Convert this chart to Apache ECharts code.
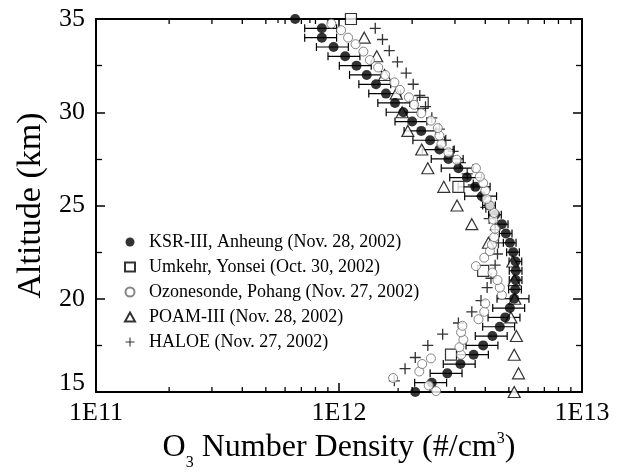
<!DOCTYPE html>
<html>
<head>
<meta charset="utf-8">
<script src="https://cdn.jsdelivr.net/npm/echarts@6/dist/echarts.min.js"></script>
<style>
  html, body { margin: 0; padding: 0; background: #fff; }
  #chart { width: 629px; height: 475px; }
</style>
</head>
<body>
<div id="chart"></div>
<script>
// KSR-III rocket, Anheung (altitude km, number density, error %)
const ksrAlt = [15, 15.5, 16, 16.5, 17, 17.5, 18, 18.5, 19, 19.5, 20, 20.5, 21, 21.5, 22, 22.5, 23, 23.5, 24, 24.5,
  25, 25.5, 26, 26.5, 27, 27.5, 28, 28.5, 29, 29.5, 30, 30.5, 31, 31.5, 32, 32.5, 33, 33.5, 34, 34.5, 35];
const ksrVal = [2.06e12, 2.41e12, 2.79e12, 3.16e12, 3.58e12, 3.92e12, 4.28e12, 4.59e12, 4.83e12, 5.05e12,
  5.26e12, 5.31e12, 5.34e12, 5.34e12, 5.33e12, 5.21e12, 5.05e12, 4.86e12, 4.68e12, 4.39e12,
  4.15e12, 3.87e12, 3.64e12, 3.36e12, 3.10e12, 2.82e12, 2.59e12, 2.37e12, 2.18e12, 2.00e12,
  1.84e12, 1.70e12, 1.56e12, 1.42e12, 1.30e12, 1.18e12, 1.06e12, 9.5e11, 8.5e11, 8.5e11, 6.6e11];
const ksrErr = [15, 15, 15, 15, 15, 15, 15, 15, 15, 15, 15, 6, 6, 6, 6, 6, 6, 6, 6, 6,
  6, 15, 15, 15, 15, 15, 15, 15, 15, 15, 15, 15, 15, 15, 15, 15, 15, 15, 15, 15, 15];

// Umkehr, Yonsei
const umkAlt = [17, 21.5, 26, 30.5, 35];
const umkVal = [2.89e12, 3.92e12, 3.10e12, 2.21e12, 1.12e12];

// Ozonesonde, Pohang
const sondeAlt = [15.05, 15.35, 15.75, 16.1, 16.5, 16.8, 17.0, 17.4, 17.8, 18.2, 18.55, 18.9, 19.3, 19.75, 20.2,
  20.6, 21.0, 21.4, 21.75, 22.2, 22.55, 22.9, 23.3, 23.75, 24.25, 24.6, 25.0, 25.35, 25.8, 26.2,
  26.55, 27.0, 27.45, 27.85, 28.3, 28.75, 29.15, 29.55, 29.95, 30.4, 30.8, 31.2, 31.6, 32.0, 32.4,
  32.8, 33.25, 33.65, 34.0, 34.4, 34.75];
const sondeVal = [2.51e12, 2.34e12, 1.67e12, 2.14e12, 2.20e12, 2.39e12, 3.18e12, 3.13e12, 3.25e12, 3.18e12,
  3.22e12, 3.75e12, 3.96e12, 4.00e12, 4.68e12, 4.59e12, 4.49e12, 4.28e12, 3.66e12, 3.96e12,
  4.18e12, 4.26e12, 4.35e12, 4.39e12, 4.31e12, 4.35e12, 4.18e12, 4.05e12, 4.00e12, 3.92e12,
  3.80e12, 3.66e12, 3.05e12, 2.82e12, 2.64e12, 2.59e12, 2.55e12, 2.39e12, 2.18e12, 2.04e12,
  1.94e12, 1.78e12, 1.69e12, 1.55e12, 1.45e12, 1.34e12, 1.26e12, 1.17e12, 1.09e12, 1.02e12, 9.3e11];

// POAM-III
const poamAlt = [15, 16, 17, 18, 19, 20, 21, 22, 23, 24, 25, 26, 27, 28, 29, 30, 31, 32, 33, 34];
const poamVal = [5.26e12, 5.48e12, 5.26e12, 5.37e12, 5.10e12, 5.29e12, 5.26e12, 5.19e12, 4.12e12, 3.52e12,
  3.06e12, 2.70e12, 2.32e12, 2.19e12, 1.92e12, 1.82e12, 1.72e12, 1.54e12, 1.43e12, 1.27e12];

// HALOE
const haloeAlt = [15.6, 16.25, 16.85, 17.5, 18.1, 18.7, 19.3, 19.9, 20.6, 21.1, 21.8, 22.4, 23.0, 23.7, 24.3, 24.9,
  25.5, 26.1, 26.7, 27.3, 27.9, 28.5, 29.1, 29.7, 30.3, 30.9, 31.5, 32.1, 32.7, 33.3, 33.9, 34.5];
const haloeVal = [1.69e12, 1.87e12, 2.06e12, 2.32e12, 2.67e12, 3.10e12, 3.52e12, 3.84e12, 4.07e12, 4.22e12,
  4.39e12, 4.49e12, 4.53e12, 4.39e12, 4.15e12, 4.02e12, 3.85e12, 3.57e12, 3.37e12, 3.16e12,
  2.95e12, 2.75e12, 2.59e12, 2.41e12, 2.27e12, 2.15e12, 2.02e12, 1.89e12, 1.74e12, 1.61e12, 1.51e12, 1.41e12];

// minor tick positions on the log axis
const xMinorTicks = [2e11, 3e11, 4e11, 5e11, 6e11, 7e11, 8e11, 9e11, 2e12, 3e12, 4e12, 5e12, 6e12, 7e12, 8e12, 9e12];

const names = [
  'KSR-III, Anheung (Nov. 28, 2002)',
  'Umkehr, Yonsei (Oct. 30, 2002)',
  'Ozonesonde, Pohang (Nov. 27, 2002)',
  'POAM-III (Nov. 28, 2002)',
  'HALOE (Nov. 27, 2002)'
];

const FONT = 'Liberation Serif';
const pairs = (xs, ys) => xs.map((x, i) => [x, ys[i]]);
const errData = ksrVal.map((v, i) => [v, ksrAlt[i], v * (1 - ksrErr[i] / 100), v * (1 + ksrErr[i] / 100)]);
const plusPath = 'path://M4.4,0 H5.6 V4.4 H10 V5.6 H5.6 V10 H4.4 V5.6 H0 V4.4 H4.4 Z';

function renderErrorBar(params, api) {
  const y = api.value(1);
  const lo = api.coord([api.value(2), y]);
  const hi = api.coord([api.value(3), y]);
  const cap = 4;
  const style = { stroke: '#000', lineWidth: 1.2 };
  return {
    type: 'group',
    children: [
      { type: 'line', shape: { x1: lo[0], y1: lo[1], x2: hi[0], y2: hi[1] }, style: style },
      { type: 'line', shape: { x1: lo[0], y1: lo[1] - cap, x2: lo[0], y2: lo[1] + cap }, style: style },
      { type: 'line', shape: { x1: hi[0], y1: hi[1] - cap, x2: hi[0], y2: hi[1] + cap }, style: style }
    ]
  };
}

// short inward ticks at the bottom and top of the frame
function renderMinorTick(params, api) {
  const bottom = api.coord([api.value(0), 15]);
  const top = api.coord([api.value(0), 35]);
  const len = 5;
  const style = { stroke: '#000', lineWidth: 1.3 };
  return {
    type: 'group',
    children: [
      { type: 'line', shape: { x1: bottom[0], y1: bottom[1], x2: bottom[0], y2: bottom[1] - len }, style: style },
      { type: 'line', shape: { x1: top[0], y1: top[1], x2: top[0], y2: top[1] + len }, style: style }
    ]
  };
}

const xAxisBase = {
  type: 'log',
  logBase: 10,
  min: 1e11,
  max: 1e13,
  splitNumber: 2,
  splitLine: { show: false },
  axisLine: { show: true, lineStyle: { color: '#000', width: 2 } },
  axisTick: { show: true, inside: true, length: 9, lineStyle: { color: '#000', width: 1.5 } },
  minorTick: { show: false }
};
const yAxisBase = {
  type: 'value',
  min: 15,
  max: 35,
  interval: 5,
  splitLine: { show: false },
  axisLine: { show: true, lineStyle: { color: '#000', width: 2 } },
  axisTick: { show: true, inside: true, length: 9, lineStyle: { color: '#000', width: 1.5 } },
  minorTick: { show: true, splitNumber: 2, length: 6, lineStyle: { color: '#000', width: 1.3 } }
};

const chart = echarts.init(document.getElementById('chart'));
chart.setOption({
  animation: false,
  backgroundColor: '#fff',
  textStyle: { fontFamily: FONT, color: '#000' },
  grid: { left: 96, right: 47, top: 19, bottom: 83, containLabel: false, outerBoundsMode: 'none' },
  legend: {
    orient: 'vertical',
    left: 119,
    top: 228,
    itemWidth: 10,
    itemHeight: 9,
    itemGap: 7,
    data: names,
    formatter: name => '  ' + name,
    textStyle: { fontFamily: FONT, fontSize: 18, color: '#000' }
  },
  xAxis: [
    Object.assign({}, xAxisBase, {
      position: 'bottom',
      axisLabel: {
        fontFamily: FONT, fontSize: 26, color: '#000', margin: 8,
        formatter: v => '1E' + Math.round(Math.log10(v))
      },
      name: '{t|O}{sub|3}{t| Number Density (#/cm}{sup|3}{t|)}',
      nameLocation: 'middle',
      nameGap: 31,
      nameTextStyle: {
        rich: {
          t: { fontFamily: FONT, fontSize: 32, color: '#000' },
          sub: { fontFamily: FONT, fontSize: 16, color: '#000', verticalAlign: 'bottom', padding: [30, 0, 0, 0] },
          sup: { fontFamily: FONT, fontSize: 16, color: '#000', verticalAlign: 'top', padding: [6, 0, 0, 0] }
        }
      }
    }),
    Object.assign({}, xAxisBase, { position: 'top', axisLabel: { show: false } })
  ],
  yAxis: [
    Object.assign({}, yAxisBase, {
      position: 'left',
      axisLabel: {
        fontFamily: FONT, fontSize: 26, color: '#000', margin: 11,
        formatter: v => (v === 15 ? '{low|15}' : String(v)),
        rich: { low: { fontFamily: FONT, fontSize: 26, color: '#000', padding: [0, 0, 18, 0] } }
      },
      name: 'Altitude (km)',
      nameLocation: 'middle',
      nameGap: 43,
      nameTextStyle: { fontFamily: FONT, fontSize: 34, color: '#000' }
    }),
    Object.assign({}, yAxisBase, { position: 'right', axisLabel: { show: false } })
  ],
  series: [
    {
      name: 'minorTicks',
      type: 'custom',
      renderItem: renderMinorTick,
      encode: { x: 0, y: 1 },
      data: xMinorTicks.map(v => [v, 25]),
      silent: true,
      z: 1
    },
    {
      name: names[3],
      type: 'scatter',
      data: pairs(poamVal, poamAlt),
      symbol: 'triangle',
      symbolSize: [12, 11],
      itemStyle: { color: '#fff', borderColor: '#000', borderWidth: 1.2 }
    },
    {
      name: names[1],
      type: 'scatter',
      data: pairs(umkVal, umkAlt),
      symbol: 'rect',
      symbolSize: 11,
      itemStyle: { color: '#fff', borderColor: '#000', borderWidth: 1.2 }
    },
    {
      name: names[4],
      type: 'scatter',
      data: pairs(haloeVal, haloeAlt),
      symbol: plusPath,
      symbolSize: 11,
      itemStyle: { color: '#000' }
    },
    {
      name: 'errorbar',
      type: 'custom',
      clip: true,
      renderItem: renderErrorBar,
      encode: { x: 0, y: 1 },
      data: errData,
      z: 2
    },
    {
      name: names[0],
      type: 'scatter',
      data: pairs(ksrVal, ksrAlt),
      symbol: 'circle',
      symbolSize: 10,
      itemStyle: { color: '#000' },
      z: 3
    },
    {
      name: names[2],
      type: 'scatter',
      data: pairs(sondeVal, sondeAlt),
      symbol: 'circle',
      symbolSize: 9,
      itemStyle: { color: '#fff', borderColor: '#666', borderWidth: 1 },
      z: 4
    }
  ]
});
</script>
</body>
</html>
